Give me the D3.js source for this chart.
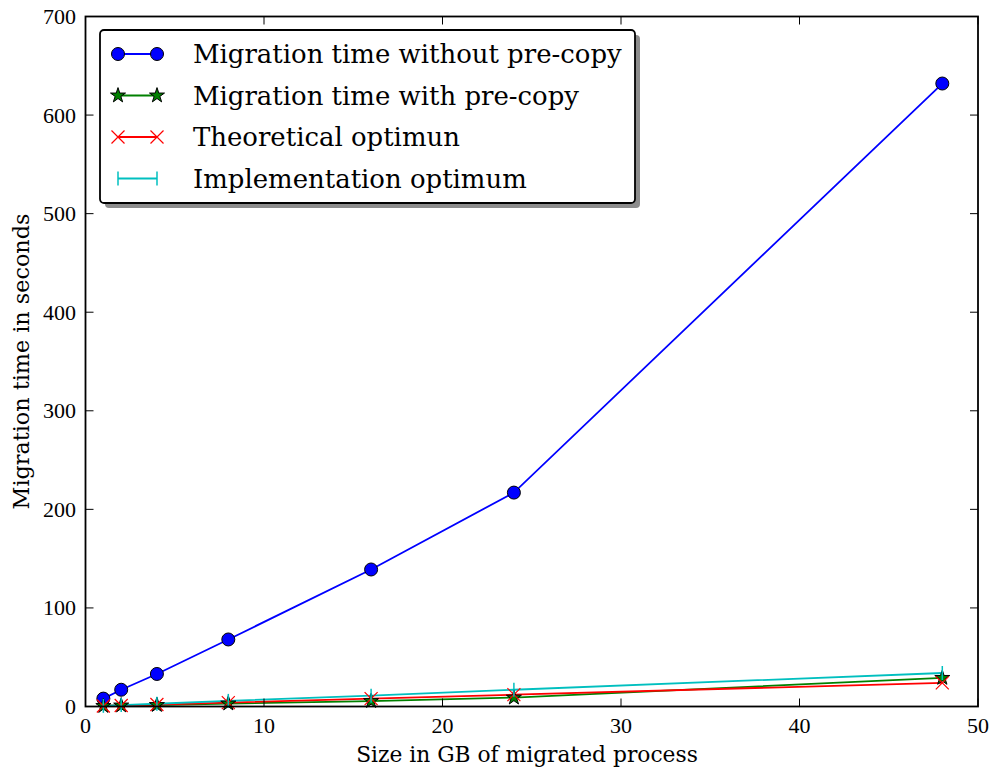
<!DOCTYPE html>
<html><head><meta charset="utf-8">
<script src="https://cdn.jsdelivr.net/npm/d3@7"></script>
<style>body{margin:0;background:#fff}svg{display:block}text{font-family:"DejaVu Serif","Liberation Serif",serif;fill:#000}text.tick{font-family:"Liberation Serif","DejaVu Serif",serif}</style>
</head><body>
<script>
const sizesGB = [1, 2, 4, 8, 16, 24, 48];
const withoutPrecopy = [8, 17, 33, 68, 139, 217, 632];
const withPrecopy = [0.5, 1, 1.5, 3, 5.5, 9, 29];
const theoreticalOpt = [0.5, 1, 2, 4, 8, 12, 24];
const implementationOpt = [0.7, 1.4, 2.8, 5.7, 11, 17, 34];
const xTicks = [0, 10, 20, 30, 40, 50];
const yTicks = [0, 100, 200, 300, 400, 500, 600, 700];
const seriesNames = ["Migration time without pre-copy", "Migration time with pre-copy", "Theoretical optimun", "Implementation optimum"];
const xLabel = "Size in GB of migrated process";
const yLabel = "Migration time in seconds";

const W = 994, H = 774;
const m = {l: 85.5, r: 16, t: 16.5, b: 67.5};
const svg = d3.select("body").append("svg").attr("width", W).attr("height", H);
const x = d3.scaleLinear().domain([0, 50]).range([m.l, W - m.r]);
const y = d3.scaleLinear().domain([0, 700]).range([H - m.b, m.t]);

function fitSize(str, target) {
  const t = svg.append("text").attr("font-size", 100).text(str);
  const w = t.node().getComputedTextLength();
  t.remove();
  return 100 * target / w;
}
const tickFs = 22;
const labelFs = fitSize(xLabel, 342);
const yLabelFs = fitSize(yLabel, 296);
const legendFs = fitSize(seriesNames[0], 429);

const series = [
  {name: seriesNames[0], vals: withoutPrecopy, color: "#0000ff", marker: "circle"},
  {name: seriesNames[1], vals: withPrecopy, color: "#008000", marker: "star"},
  {name: seriesNames[2], vals: theoreticalOpt, color: "#ff0000", marker: "x"},
  {name: seriesNames[3], vals: implementationOpt, color: "#00bfbf", marker: "vline"}
];

svg.append("clipPath").attr("id", "clip").append("rect")
  .attr("x", m.l).attr("y", m.t).attr("width", W - m.r - m.l).attr("height", H - m.b - m.t);

const star = d3.symbol().type(d3.symbolStar).size(70);
function drawMarker(g, type, color, cx, cy) {
  if (type === "circle") {
    g.append("circle").attr("cx", cx).attr("cy", cy).attr("r", 6.5)
      .attr("fill", color).attr("stroke", "#000").attr("stroke-width", 1);
  } else if (type === "star") {
    g.append("path").attr("d", star).attr("transform", `translate(${cx},${cy})`)
      .attr("fill", color).attr("stroke", "#000").attr("stroke-width", 1);
  } else if (type === "x") {
    const s = 6.5;
    g.append("path").attr("d", `M${cx-s},${cy-s}L${cx+s},${cy+s}M${cx-s},${cy+s}L${cx+s},${cy-s}`)
      .attr("stroke", color).attr("stroke-width", 1.2).attr("fill", "none");
  } else if (type === "vline") {
    const s = 7;
    g.append("path").attr("d", `M${cx},${cy-s}L${cx},${cy+s}`)
      .attr("stroke", color).attr("stroke-width", 1.5).attr("fill", "none");
  }
}

const plot = svg.append("g").attr("clip-path", "url(#clip)");
const line = d3.line().x((d, i) => x(sizesGB[i])).y(d => y(d));
series.forEach(s => {
  plot.append("path").datum(s.vals).attr("d", line)
    .attr("fill", "none").attr("stroke", s.color).attr("stroke-width", 1.8);
});
series.forEach(s => {
  const g = svg.append("g");
  s.vals.forEach((v, i) => drawMarker(g, s.marker, s.color, x(sizesGB[i]), y(v)));
});

const tl = 8;
const ax = svg.append("g");
xTicks.forEach(t => {
  ax.append("line").attr("x1", x(t)).attr("x2", x(t)).attr("y1", y(0)).attr("y2", y(0) - tl).attr("stroke", "#000");
  ax.append("line").attr("x1", x(t)).attr("x2", x(t)).attr("y1", y(700)).attr("y2", y(700) + tl).attr("stroke", "#000");
  ax.append("text").attr("class", "tick").attr("x", x(t)).attr("y", 733).attr("text-anchor", "middle").attr("font-size", tickFs).text(t);
});
yTicks.forEach(t => {
  ax.append("line").attr("x1", x(0)).attr("x2", x(0) + tl).attr("y1", y(t)).attr("y2", y(t)).attr("stroke", "#000");
  ax.append("line").attr("x1", x(50)).attr("x2", x(50) - tl).attr("y1", y(t)).attr("y2", y(t)).attr("stroke", "#000");
  ax.append("text").attr("class", "tick").attr("x", x(0) - 9.5).attr("y", y(t)).attr("dy", "0.34em").attr("text-anchor", "end").attr("font-size", tickFs).text(t);
});
svg.append("rect").attr("x", m.l).attr("y", m.t).attr("width", W - m.r - m.l).attr("height", H - m.b - m.t)
  .attr("fill", "none").attr("stroke", "#000").attr("stroke-width", 1.8);

svg.append("text").attr("x", 527).attr("y", 762).attr("text-anchor", "middle").attr("font-size", labelFs)
  .text(xLabel);
svg.append("text").attr("transform", `translate(29,${(m.t + H - m.b) / 2}) rotate(-90)`).attr("text-anchor", "middle").attr("font-size", yLabelFs)
  .text(yLabel);

const lg = svg.append("g");
const lx = 100, ly = 30, lw = 535, lh = 173;
lg.append("rect").attr("x", lx + 5).attr("y", ly + 5).attr("width", lw).attr("height", lh).attr("rx", 4).attr("fill", "#7f7f7f").attr("opacity", 0.9);
lg.append("rect").attr("x", lx).attr("y", ly).attr("width", lw).attr("height", lh).attr("rx", 4).attr("fill", "#fff").attr("stroke", "#000").attr("stroke-width", 1.8);
series.forEach((s, i) => {
  const cy = 54 + i * 41.5;
  lg.append("line").attr("x1", 118).attr("x2", 157).attr("y1", cy).attr("y2", cy).attr("stroke", s.color).attr("stroke-width", 1.8);
  drawMarker(lg, s.marker, s.color, 118, cy);
  drawMarker(lg, s.marker, s.color, 157, cy);
  lg.append("text").attr("x", 193).attr("y", cy + 9).attr("font-size", legendFs).text(s.name);
});
</script>
</body></html>
